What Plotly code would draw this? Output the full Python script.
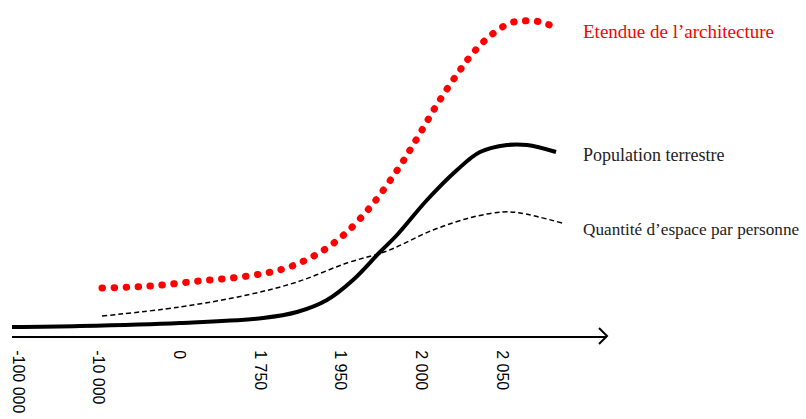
import plotly.graph_objects as go

# Tick positions (ordinal time scale) and labels
tick_pos = [0, 1, 2, 3, 4, 5, 6]
tick_labels = ["-100 000", "-10 000", "0", "1 750", "1 950", "2 000", "2 050"]

# Population terrestre (solid black)
pop_x = [-0.074, 0.769, 2.008, 3.037, 3.459, 3.830, 4.153, 4.487, 4.698, 5.070, 5.442, 5.727, 6.062, 6.310, 6.669]
pop_y = [9, 10, 13, 18, 24, 36, 56, 84, 101, 136, 166, 184, 191, 191, 184]

# Etendue de l'architecture (red dotted)
arch_x = [1.041, 1.636, 2.244, 2.851, 3.285, 3.570, 3.830, 4.078, 4.388, 4.735, 4.971, 5.206, 5.454, 5.640, 5.851, 6.099, 6.248, 6.409, 6.558, 6.694]
arch_y = [48, 50, 55, 60, 67, 76, 88, 104, 131, 170, 201, 233, 263, 283, 300, 313, 315, 315, 312, 307]

# Quantité d'espace par personne (dashed black)
esp_x = [1.041, 2.008, 2.839, 3.459, 4.078, 4.574, 5.144, 5.640, 6.012, 6.223, 6.744]
esp_y = [20, 29, 41, 54, 73, 85, 106, 119, 124, 123, 113]

labels = ["Etendue de l\u2019architecture", "Population terrestre", "Quantit\u00e9 d\u2019espace par personne"]
label_x = [6.98, 6.98, 6.98]
label_y = [305, 181, 107]
label_colors = ["#ff0000", "#222222", "#222222"]
label_sizes = [19, 18, 17.2]

fig = go.Figure()
fig.add_trace(go.Scatter(x=esp_x, y=esp_y, mode="lines",
                         line=dict(color="black", width=1.5, dash="5px,3px", shape="spline", smoothing=1)))
fig.add_trace(go.Scatter(x=pop_x, y=pop_y, mode="lines",
                         line=dict(color="black", width=4, shape="spline", smoothing=1)))
fig.add_trace(go.Scatter(x=arch_x, y=arch_y, mode="lines",
                         line=dict(color="rgb(255,0,0)", width=7, dash="0.5px,11.5px", shape="spline", smoothing=1)))

for t, xx, yy, c, s in zip(labels, label_x, label_y, label_colors, label_sizes):
    fig.add_annotation(x=xx, y=yy, xref="x", yref="y", text=t, showarrow=False,
                       xanchor="left", yanchor="middle",
                       font=dict(family="Liberation Serif", size=s, color=c))

x_end = 7.301
fig.add_shape(type="path", xref="paper", yref="paper", xsizemode="pixel", ysizemode="pixel",
              xanchor=1, yanchor=0, path="M -8,8 L 0,0 L -8,-8",
              line=dict(color="black", width=2))

fig.update_layout(
    width=806, height=419,
    margin=dict(l=12, r=199, t=0, b=83),
    paper_bgcolor="white", plot_bgcolor="white",
    showlegend=False,
    xaxis=dict(range=[-0.074, x_end], tickvals=tick_pos, ticktext=tick_labels,
               tickangle=90, showgrid=False, zeroline=False, showline=True,
               linecolor="black", linewidth=2, ticks="", ticklabelstandoff=9,
               tickfont=dict(family="Liberation Sans", size=16, color="black")),
    yaxis=dict(range=[0, 336], visible=False, showgrid=False, zeroline=False),
)

post = """
document.body.style.margin='0';
var gd=document.getElementById('{plot_id}');
function fix(){gd.querySelectorAll('.scatterlayer .trace path.js-line').forEach(function(p){
 var s=p.style.stroke||''; if(s.indexOf('255, 0, 0')>=0||s.indexOf('255,0,0')>=0){p.style.strokeLinecap='round';}});}
fix(); if(gd.on){gd.on('plotly_afterplot', fix);}
"""
fig.write_html("out.html", config={"displayModeBar": False}, post_script=post)
